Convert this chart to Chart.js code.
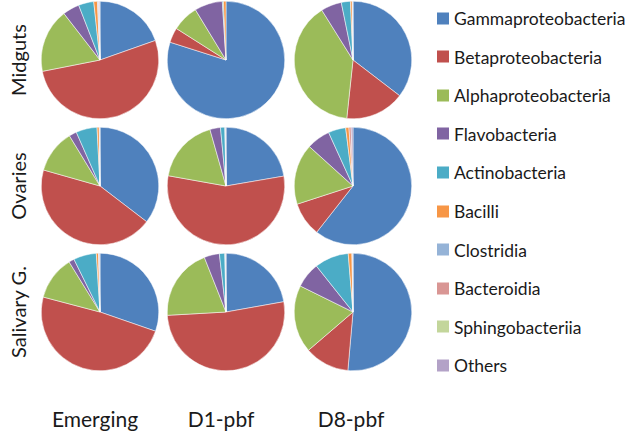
<!DOCTYPE html>
<html>
<head>
<meta charset="utf-8">
<script src="https://cdn.jsdelivr.net/npm/chart.js@4"></script>
<style>
  body { margin: 0; background: #fff; }
  #wrap { position: relative; width: 630px; height: 431px; overflow: hidden;
          font-family: Lato, "Open Sans", sans-serif; color: #1a1a1a; }
  #wrap canvas { position: absolute; }
  .rowlab { position: absolute; font-size: 20px; white-space: nowrap;
            transform: translate(-50%, -50%) rotate(-90deg); }
  .collab { position: absolute; font-size: 21px; white-space: nowrap;
            transform: translate(-50%, -50%); }
  .leg { position: absolute; left: 437px; display: flex; align-items: center;
         font-size: 17.5px; white-space: nowrap; transform: translateY(-50%); }
  .leg span.box { width: 12px; height: 12px; margin-right: 5px; display: inline-block; }
</style>
</head>
<body>
<div id="wrap"></div>
<script>
const classes = ['Gammaproteobacteria', 'Betaproteobacteria', 'Alphaproteobacteria', 'Flavobacteria',
  'Actinobacteria', 'Bacilli', 'Clostridia', 'Bacteroidia', 'Sphingobacteriia', 'Others']
const colors = ['#4F81BD', '#C0504D', '#9BBB59', '#8064A2', '#4BACC6',
  '#F79646', '#95B3D7', '#D99694', '#C3D69B', '#B3A2C7']

const tissues = ['Midguts', 'Ovaries', 'Salivary G.']
const stages = ['Emerging', 'D1-pbf', 'D8-pbf']

// percent of reads per class, one list per stage (Emerging, D1-pbf, D8-pbf)
const midguts = [
  [19.6, 52.3, 17.6, 4.6, 4.2, 1.0, 0.3, 0.2, 0, 0.2],
  [79.9, 4.1, 7.3, 7.7, 0.3, 0.7, 0, 0, 0, 0],
  [35.4, 16.3, 39.4, 5.7, 2.5, 0.5, 0.1, 0, 0, 0.1]
]
const ovaries = [
  [35.4, 44.0, 11.9, 2.1, 5.8, 0.6, 0.1, 0, 0, 0.1],
  [22.3, 55.5, 17.8, 2.9, 1.2, 0.1, 0.1, 0, 0, 0.1],
  [60.6, 9.4, 16.7, 6.5, 4.8, 0.9, 0, 0.6, 0, 0.5]
]
const salivary = [
  [30.3, 48.8, 12.1, 1.5, 6.3, 0.6, 0.2, 0, 0, 0.2],
  [22.2, 51.9, 19.9, 4.2, 1.5, 0.1, 0.1, 0, 0, 0.1],
  [51.4, 12.3, 18.6, 7.0, 9.4, 1.0, 0.2, 0, 0, 0.1]
]

const wrap = document.getElementById('wrap')
const colX = [100, 226, 353]
const rowY = [60, 186, 312]
const R = 59

;[midguts, ovaries, salivary].forEach((rows, r) => {
  rows.forEach((vals, c) => {
    const cv = document.createElement('canvas')
    cv.width = R * 2
    cv.height = R * 2
    cv.style.left = (colX[c] - R) + 'px'
    cv.style.top = (rowY[r] - R) + 'px'
    wrap.appendChild(cv)
    new Chart(cv.getContext('2d'), {
      type: 'pie',
      data: {
        labels: classes,
        datasets: [{ data: vals, backgroundColor: colors, borderColor: '#fff', borderWidth: 0.5 }]
      },
      options: {
        responsive: false,
        animation: false,
        layout: { padding: 0 },
        plugins: { legend: { display: false }, tooltip: { enabled: false } }
      }
    })
  })
  const lab = document.createElement('div')
  lab.className = 'rowlab'
  lab.textContent = tissues[r]
  lab.style.left = '18px'
  lab.style.top = rowY[r] + 'px'
  wrap.appendChild(lab)
})

stages.forEach((s, c) => {
  const lab = document.createElement('div')
  lab.className = 'collab'
  lab.textContent = s
  lab.style.left = [95, 221, 351][c] + 'px'
  lab.style.top = '418px'
  wrap.appendChild(lab)
})

classes.forEach((name, i) => {
  const item = document.createElement('div')
  item.className = 'leg'
  item.style.top = (18 + i * 38.6) + 'px'
  item.innerHTML = '<span class="box" style="background:' + colors[i] + '"></span>' + name
  wrap.appendChild(item)
})
</script>
</body>
</html>
